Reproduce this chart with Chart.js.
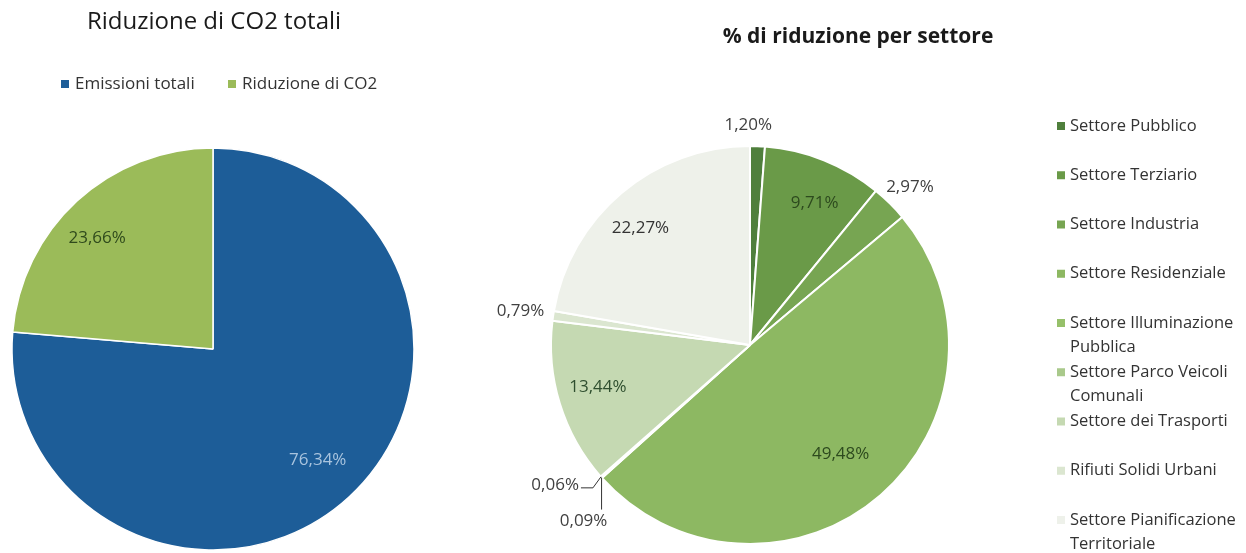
<!DOCTYPE html>
<html lang="it">
<head>
<meta charset="utf-8">
<title>Riduzione di CO2</title>
<script src="https://cdn.jsdelivr.net/npm/chart.js@4"></script>
<style>
  body { margin: 0; background: #fff; width: 1246px; height: 553px; overflow: hidden; position: relative; }
  #totChart { position: absolute; left: 0; top: 0; }
  #settChart { position: absolute; left: 480px; top: 0; }
</style>
</head>
<body>
<canvas id="totChart" width="430" height="553"></canvas>
<canvas id="settChart" width="766" height="553"></canvas>
<script>
// totale emissioni vs riduzione
const totLabels = ["Emissioni totali", "Riduzione di CO2"];
const totValues = [76.34, 23.66];
const totColors = ["#1d5d98", "#9bbb59"];

// riduzione per settore
const settLabels = [
    "Settore Pubblico",
    "Settore Terziario",
    "Settore Industria",
    "Settore Residenziale",
    "Settore Illuminazione Pubblica",
    "Settore Parco Veicoli Comunali",
    "Settore dei Trasporti",
    "Rifiuti Solidi Urbani",
    "Settore Pianificazione Territoriale"
];
const settValues = [1.20, 9.71, 2.97, 49.48, 0.09, 0.06, 13.44, 0.79, 22.27];
const settColors = ["#4f7f3c", "#6a9a48", "#77a552", "#8db862", "#96c06a", "#a9c98b", "#c5d9b2", "#dbe6d0", "#eef1ea"];

const FONT = "'Open Sans', Lato, sans-serif";

function pct(v) {
    return v.toFixed(2).replace(".", ",") + "%";
}

// percent labels on or next to each slice
const sliceLabels = {
    id: "sliceLabels",
    afterDatasetsDraw(chart, args, opts) {
        const ctx = chart.ctx;
        const values = chart.data.datasets[0].data;
        ctx.save();
        ctx.font = opts.font;
        ctx.textBaseline = "middle";
        chart.getDatasetMeta(0).data.forEach((arc, i) => {
            const p = opts.place[i];
            const a = arc.getProps(["x", "y", "startAngle", "endAngle", "outerRadius"], true);
            const mid = (a.startAngle + a.endAngle) / 2;
            const ex = a.x + Math.cos(mid) * a.outerRadius;
            const ey = a.y + Math.sin(mid) * a.outerRadius;
            let tx, ty;
            if (p.line) {
                ctx.strokeStyle = "#333";
                ctx.lineWidth = 1;
                ctx.beginPath();
                ctx.moveTo(ex, ey);
                p.line.forEach(pt => ctx.lineTo(ex + pt[0], ey + pt[1]));
                ctx.stroke();
                tx = ex + p.tx;
                ty = ey + p.ty;
            } else {
                tx = a.x + Math.cos(mid) * a.outerRadius * p.k + (p.dx || 0);
                ty = a.y + Math.sin(mid) * a.outerRadius * p.k + (p.dy || 0);
            }
            ctx.fillStyle = p.color || "#404040";
            ctx.textAlign = p.align || "center";
            ctx.fillText(pct(values[i]), tx, ty);
        });
        ctx.restore();
    }
};

// title + legend drawn by hand so they sit where they should
const headings = {
    id: "headings",
    afterDraw(chart, args, opts) {
        const ctx = chart.ctx;
        const colors = chart.data.datasets[0].backgroundColor;
        ctx.save();
        ctx.textBaseline = "middle";
        ctx.fillStyle = "#1a1a1a";
        ctx.font = opts.titleFont;
        ctx.textAlign = "center";
        ctx.fillText(opts.title, opts.titleX, opts.titleY);

        ctx.font = opts.legendFont;
        ctx.textAlign = "left";
        chart.data.labels.forEach((label, i) => {
            const pos = opts.legendPos(i);
            ctx.fillStyle = colors[i];
            ctx.fillRect(pos.x, pos.y - 4, 8, 8);
            ctx.fillStyle = "#333";
            // simple word wrap
            const words = label.split(" ");
            let line = "";
            let y = pos.y;
            words.forEach(w => {
                const test = line ? line + " " + w : w;
                if (opts.wrap && line && ctx.measureText(test).width > opts.wrap) {
                    ctx.fillText(line, pos.x + opts.gap, y);
                    line = w;
                    y += 24;
                } else {
                    line = test;
                }
            });
            ctx.fillText(line, pos.x + opts.gap, y);
        });
        ctx.restore();
    }
};

const totLegendX = [61, 228];

new Chart(document.getElementById("totChart"), {
    type: "pie",
    data: {
        labels: totLabels,
        datasets: [{
            data: totValues,
            backgroundColor: totColors,
            borderColor: "#ffffff",
            borderWidth: 1.5,
            radius: 201
        }]
    },
    options: {
        responsive: false,
        animation: false,
        layout: { padding: { top: 148, bottom: 3, left: 12, right: 16 } },
        plugins: {
            legend: { display: false },
            tooltip: { enabled: false },
            headings: {
                title: "Riduzione di CO2 totali",
                titleFont: "500 24px " + FONT,
                titleX: 214,
                titleY: 22,
                legendFont: "17px " + FONT,
                gap: 14,
                legendPos: i => ({ x: totLegendX[i], y: 84 })
            },
            sliceLabels: {
                font: "17px " + FONT,
                place: [
                    { k: 0.77, dy: -3, color: "#a9c4de" },
                    { k: 0.8, dx: -7, dy: 8, color: "#2f4a1c" }
                ]
            }
        }
    },
    plugins: [sliceLabels, headings]
});

new Chart(document.getElementById("settChart"), {
    type: "pie",
    data: {
        labels: settLabels,
        datasets: [{
            data: settValues,
            backgroundColor: settColors,
            borderColor: "#ffffff",
            borderWidth: 2,
            radius: 199
        }]
    },
    options: {
        responsive: false,
        animation: false,
        layout: { padding: { top: 145, bottom: 8, left: 70, right: 296 } },
        plugins: {
            legend: { display: false },
            tooltip: { enabled: false },
            headings: {
                title: "% di riduzione per settore",
                titleFont: "bold 21px " + FONT,
                titleX: 378,
                titleY: 37,
                legendFont: "16.5px " + FONT,
                gap: 13,
                wrap: 172,
                legendPos: i => ({ x: 577, y: 126 + i * 49.25 })
            },
            sliceLabels: {
                font: "17px " + FONT,
                place: [
                    { k: 1.105, dx: -10 },
                    { k: 0.78, dx: 7, dy: 2, color: "#2d4a1e" },
                    { k: 1.13, dx: 2, dy: 2 },
                    { k: 0.71, dx: -2, dy: 2, color: "#2d4a1e" },
                    { line: [[0, 32]], tx: -18, ty: 44 },
                    { line: [[-8, 11], [-20, 11]], tx: -22, ty: 8, align: "right" },
                    { k: 0.8, dy: -5, color: "#2f4f2f" },
                    { k: 1.166 },
                    { k: 0.8, dx: -7, dy: 5, color: "#333" }
                ]
            }
        }
    },
    plugins: [sliceLabels, headings]
});
</script>
</body>
</html>
